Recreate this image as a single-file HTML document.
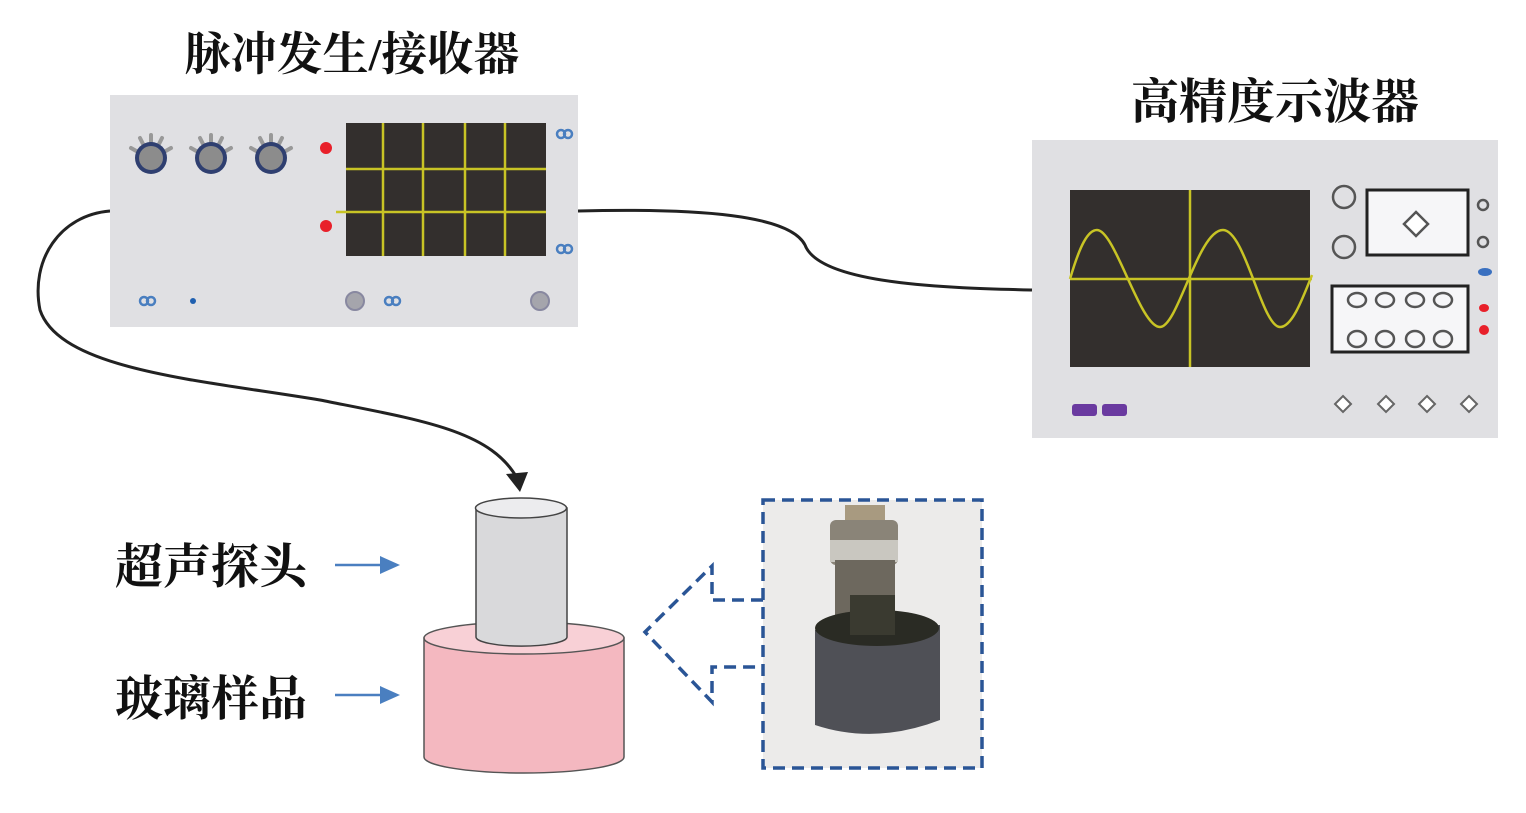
<!DOCTYPE html>
<html><head><meta charset="utf-8"><style>
html,body{margin:0;padding:0;background:#fff;}
svg{display:block;}
text{font-family:"Liberation Serif","Noto Serif CJK SC","Noto Sans CJK SC",serif;fill:#111;font-weight:bold;}
</style></head><body>
<svg width="1526" height="813" viewBox="0 0 1526 813" xmlns="http://www.w3.org/2000/svg">
<rect width="1526" height="813" fill="#fff"/>
<text x="352" y="70" font-size="46" text-anchor="middle">脉冲发生/接收器</text>
<text x="1275" y="118" font-size="48" text-anchor="middle">高精度示波器</text>

<!-- cables -->
<path d="M110,211 C60,215 30,260 40,310 C60,370 200,380 320,400 C420,420 490,430 517,478" fill="none" stroke="#222" stroke-width="3"/>
<polygon points="506,474 528,472 520,492" fill="#222"/>
<path d="M578,211 C700,208 790,215 805,245 C820,285 950,288 1032,290" fill="none" stroke="#222" stroke-width="3"/>

<!-- pulser -->
<rect x="110" y="95" width="468" height="232" fill="#e0e0e3"/>
<rect x="346" y="123" width="200" height="133" fill="#332f2d"/>
<g stroke="#c8c425" stroke-width="2.5">
<line x1="383" y1="123" x2="383" y2="256"/><line x1="423" y1="123" x2="423" y2="256"/>
<line x1="465" y1="123" x2="465" y2="256"/><line x1="505" y1="123" x2="505" y2="256"/>
<line x1="346" y1="169" x2="546" y2="169"/><line x1="336" y1="212" x2="546" y2="212"/>
</g>
<g>
<g transform="translate(151,158)"><g stroke="#999" stroke-width="4" stroke-linecap="round"><line x1="-20" y1="-10" x2="-13" y2="-6"/><line x1="-11" y1="-20" x2="-7" y2="-12"/><line x1="0" y1="-23" x2="0" y2="-14"/><line x1="11" y1="-20" x2="7" y2="-12"/><line x1="20" y1="-10" x2="13" y2="-6"/></g><circle r="16" fill="#2f3f70"/><circle r="12" fill="#8c8c8c"/></g>
<g transform="translate(211,158)"><g stroke="#999" stroke-width="4" stroke-linecap="round"><line x1="-20" y1="-10" x2="-13" y2="-6"/><line x1="-11" y1="-20" x2="-7" y2="-12"/><line x1="0" y1="-23" x2="0" y2="-14"/><line x1="11" y1="-20" x2="7" y2="-12"/><line x1="20" y1="-10" x2="13" y2="-6"/></g><circle r="16" fill="#2f3f70"/><circle r="12" fill="#8c8c8c"/></g>
<g transform="translate(271,158)"><g stroke="#999" stroke-width="4" stroke-linecap="round"><line x1="-20" y1="-10" x2="-13" y2="-6"/><line x1="-11" y1="-20" x2="-7" y2="-12"/><line x1="0" y1="-23" x2="0" y2="-14"/><line x1="11" y1="-20" x2="7" y2="-12"/><line x1="20" y1="-10" x2="13" y2="-6"/></g><circle r="16" fill="#2f3f70"/><circle r="12" fill="#8c8c8c"/></g>
</g>
<circle cx="326" cy="148" r="6" fill="#e8202a"/><circle cx="326" cy="226" r="6" fill="#e8202a"/>
<g fill="none" stroke="#4a7fc0" stroke-width="2.5">
<circle cx="561" cy="134" r="4"/><circle cx="568" cy="134" r="4"/>
<circle cx="561" cy="249" r="4"/><circle cx="568" cy="249" r="4"/>
<circle cx="144" cy="301" r="4"/><circle cx="151" cy="301" r="4"/>
<circle cx="389" cy="301" r="4"/><circle cx="396" cy="301" r="4"/>
</g>
<circle cx="193" cy="301" r="3" fill="#2060b0"/>
<circle cx="355" cy="301" r="9" fill="#a5a5ac" stroke="#8888a0" stroke-width="2"/>
<circle cx="540" cy="301" r="9" fill="#a5a5ac" stroke="#8888a0" stroke-width="2"/>

<!-- oscilloscope -->
<rect x="1032" y="140" width="466" height="298" fill="#e0e0e3"/>
<rect x="1070" y="190" width="240" height="177" fill="#332f2d"/>
<g stroke="#c8c425" stroke-width="2.5" fill="none">
<line x1="1070" y1="279" x2="1312" y2="279"/><line x1="1190" y1="190" x2="1190" y2="367"/>
<path d="M1070,279 C1080,245 1088,230 1097,230 C1115,230 1140,327 1160,327 C1178,327 1198,230 1223,230 C1245,230 1262,327 1280,327 C1292,327 1302,300 1312,275"/>
</g>
<g fill="none" stroke="#555" stroke-width="2.5">
<circle cx="1344" cy="197" r="11"/><circle cx="1344" cy="247" r="11"/>
<circle cx="1483" cy="205" r="5"/><circle cx="1483" cy="242" r="5"/>
</g>
<rect x="1367" y="190" width="101" height="65" fill="#f6f6f8" stroke="#222" stroke-width="3"/>
<polygon points="1416,212 1428,224 1416,236 1404,224" fill="#fff" stroke="#555" stroke-width="2.5"/>
<rect x="1332" y="286" width="136" height="66" fill="#f6f6f8" stroke="#222" stroke-width="3"/>
<g fill="none" stroke="#555" stroke-width="2.5">
<ellipse cx="1357" cy="300" rx="9" ry="7"/><ellipse cx="1385" cy="300" rx="9" ry="7"/><ellipse cx="1415" cy="300" rx="9" ry="7"/><ellipse cx="1443" cy="300" rx="9" ry="7"/>
<ellipse cx="1357" cy="339" rx="9" ry="8"/><ellipse cx="1385" cy="339" rx="9" ry="8"/><ellipse cx="1415" cy="339" rx="9" ry="8"/><ellipse cx="1443" cy="339" rx="9" ry="8"/>
</g>
<ellipse cx="1485" cy="272" rx="7" ry="4" fill="#3a70c0"/>
<ellipse cx="1484" cy="308" rx="5" ry="4" fill="#e8202a"/><circle cx="1484" cy="330" r="5" fill="#e8202a"/>
<g fill="#fff" stroke="#666" stroke-width="2">
<polygon points="1343,396 1351,404 1343,412 1335,404"/><polygon points="1386,396 1394,404 1386,412 1378,404"/>
<polygon points="1427,396 1435,404 1427,412 1419,404"/><polygon points="1469,396 1477,404 1469,412 1461,404"/>
</g>
<rect x="1072" y="404" width="25" height="12" rx="3" fill="#6a3aa0"/><rect x="1102" y="404" width="25" height="12" rx="3" fill="#6a3aa0"/>

<!-- labels and arrows -->
<text x="115" y="583" font-size="48">超声探头</text>
<text x="115" y="715" font-size="48">玻璃样品</text>
<g stroke="#4a7fc0" stroke-width="2.5"><line x1="335" y1="565" x2="390" y2="565"/><line x1="335" y1="695" x2="390" y2="695"/></g>
<polygon points="380,556 400,565 380,574" fill="#4a7fc0"/><polygon points="380,686 400,695 380,704" fill="#4a7fc0"/>

<!-- sample -->
<path d="M424,638 L424,757 A100,16 0 0 0 624,757 L624,638 Z" fill="#f4b8c0" stroke="#555" stroke-width="1.5"/>
<ellipse cx="524" cy="638" rx="100" ry="16" fill="#f8d0d6" stroke="#555" stroke-width="1.5"/>
<path d="M476,508 L476,637 A45,9 0 0 0 567,637 L567,508 Z" fill="#d9d9db" stroke="#444" stroke-width="1.5"/>
<ellipse cx="521" cy="508" rx="45.5" ry="10" fill="#ececee" stroke="#444" stroke-width="1.5"/>

<!-- photo -->
<rect x="763" y="500" width="219" height="268" fill="#ecebea"/>
<rect x="845" y="505" width="40" height="20" fill="#a89a80"/>
<rect x="830" y="520" width="68" height="45" rx="6" fill="#8a8478"/>
<rect x="830" y="540" width="68" height="22" fill="#c9c7c0"/>
<rect x="835" y="560" width="60" height="55" fill="#6d685e"/>
<path d="M815,630 L815,725 Q875,745 940,720 L940,625 Z" fill="#4f5056"/>
<ellipse cx="877" cy="628" rx="62" ry="18" fill="#2a2b24"/>
<rect x="850" y="595" width="45" height="40" fill="#3a3a30"/>
<rect x="763" y="500" width="219" height="268" fill="none" stroke="#2a5596" stroke-width="3.5" stroke-dasharray="12,7"/>
<path d="M763,600 L712,600 L712,566 L645,632 L712,702 L712,667 L763,667" fill="none" stroke="#2a5596" stroke-width="3.5" stroke-dasharray="12,7"/>
</svg>
</body></html>
